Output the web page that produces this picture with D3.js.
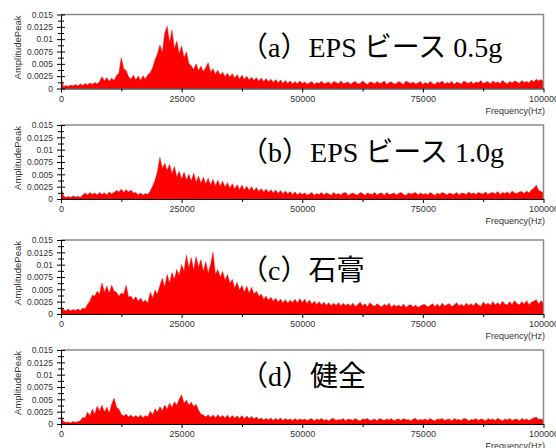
<!DOCTYPE html>
<html><head><meta charset="utf-8">
<script src="https://cdn.jsdelivr.net/npm/d3@7"></script>
<style>body{margin:0;background:#fff}svg{display:block}</style>
</head><body><svg id="c" width="556" height="448"></svg>
<script>
// ---- data ----
const freqStep = 500; // Hz between spectrum samples (0 .. 100000 Hz)
const yTicks = [0, 0.0025, 0.005, 0.0075, 0.01, 0.0125, 0.015];
const yTickLabels = ["0", "0.0025", "0.005", "0.0075", "0.01", "0.0125", "0.015"];
const yMinorTicks = [0.00125, 0.00375, 0.00625, 0.00875, 0.01125, 0.01375];
const xTicks = [0, 25000, 50000, 75000, 100000];
const xTickLabels = ["0", "25000", "50000", "75000", "100000"];
const xMinorTicks = [12500, 37500, 62500, 87500];
const titles = ["（a）EPS ビース 0.5g", "（b）EPS ビース 1.0g", "（c）石膏", "（d）健全"];
const yLabel = "AmplitudePeak";
const xLabel = "Frequency(Hz)";
// amplitude peaks, in units of 1e-4
const ampA = [25,
 3,6,4,7,5,8,5,9,6,10,7,11,8,12,9,14,
 24,15,22,14,21,16,26,31,
 62,40,36,24,19,27,17,25,16,26,19,28,32,42,58,70,
 88,72,112,126,92,118,80,96,70,86,62,74,50,46,38,50,36,45,34,42,
 52,33,40,29,37,27,33,24,31,23,30,21,28,19,27,18,25,17,23,16,
 22,15,21,14,20,13,19,12,18,11,17,10,16,10,15,9,14,9,15,10,
 13,9,11,14,8,12,10,15,9,11,13,8,14,12,9,15,10,11,13,8,12,14,9,10,15,11,8,13,12,9,14,10,11,15,8,12,13,9,10,14,11,8,15,12,10,13,9,11,14,8,
 12,9,14,10,8,13,11,15,9,12,10,14,8,13,11,9,15,12,10,14,9,13,11,16,10,12,14,9,15,11,13,10,16,12,9,14,11,15,13,10,16,12,14,11,17,13,19,15,18,14];
const ampB = [25,
 6,3,5,3,6,4,5,3,
 8,12,8,13,9,12,8,13,9,12,8,14,10,13,
 17,14,20,13,19,14,18,12,13,8,12,8,11,9,
 16,26,38,56,84,62,72,58,70,50,66,44,56,40,54,38,50,36,52,34,46,32,44,30,
 42,28,40,26,38,25,36,24,33,22,31,20,29,19,28,18,26,17,25,16,
 23,15,21,14,20,13,19,12,18,11,17,10,16,10,15,9,14,8,13,9,
 12,8,10,13,7,11,9,13,8,12,10,7,13,9,11,8,12,13,7,10,12,9,8,13,11,7,12,10,9,13,8,11,12,7,13,9,10,12,8,11,13,9,7,12,10,11,13,8,12,9,
 11,8,13,10,7,12,9,13,11,8,12,10,9,13,8,12,11,9,14,10,12,9,13,11,10,14,9,12,13,10,15,9,13,11,14,10,16,12,11,14,15,11,16,12,18,22,28,17,15,12];
const ampC = [15,
 9,6,10,6,9,7,10,7,
 12,10,20,26,38,36,46,40,63,44,56,42,58,46,44,36,42,40,58,34,36,28,35,26,32,24,28,22,44,32,48,40,
 58,72,54,80,62,84,70,90,78,100,86,119,92,114,88,116,94,110,86,106,82,100,125,80,90,74,86,68,80,62,70,52,64,48,58,44,56,42,54,40,
 46,36,40,30,36,28,34,26,32,24,30,23,29,22,28,23,30,22,31,23,
 30,21,28,20,26,19,25,18,24,17,23,16,22,17,23,16,22,17,21,16,
 22,15,19,24,16,21,14,23,18,15,21,17,14,20,16,22,13,19,15,18,14,20,13,17,19,14,18,13,16,19,
 19,14,17,21,15,20,14,22,16,19,21,15,18,23,16,20,15,22,17,21,16,23,18,15,24,19,22,17,25,18,23,17,26,20,18,25,19,27,21,18,25,20,27,19,24,26,29,20,27,22];
const ampD = [15,
 5,3,4,2,5,3,5,6,
 13,12,24,16,30,20,36,26,38,24,34,22,40,52,34,30,20,16,20,14,18,13,
 17,13,18,12,17,14,26,18,31,24,35,27,38,30,42,33,45,38,50,59,42,48,38,44,35,40,28,20,18,14,
 19,13,18,12,19,13,17,12,18,11,17,12,16,11,17,10,16,11,15,10,
 14,9,12,8,11,8,12,7,11,8,12,7,11,8,10,7,11,7,10,8,
 10,7,9,11,6,10,8,11,7,9,6,10,11,7,9,8,11,6,10,9,7,11,8,6,10,9,11,7,8,10,6,11,9,7,10,8,11,6,9,10,7,11,8,9,6,10,11,7,9,8,
 10,7,11,8,6,10,9,11,7,9,10,6,11,8,9,7,11,10,6,9,8,11,7,10,9,6,11,8,10,7,11,9,6,10,8,11,7,9,10,6,11,8,10,7,10,12,14,9,10,8];
const series = [ampA, ampB, ampC, ampD];

// ---- layout ----
const left = 61, right = 543.5, ph = 74;
const panelTops = [14.5, 125, 240, 350];
const titleBase = [42, 36.5, 39.5, 35.5];
const svg = d3.select("#c");
const x = d3.scaleLinear().domain([0, 100000]).range([left, right]);
const textCol = "#333";
const sans = "Liberation Sans, Arial, sans-serif";
const isCJK = ch => /[\u3000-\u30ff\u4e00-\u9fff\uff00-\uffef]/.test(ch);

series.forEach((vals, k) => {
  const top = panelTops[k], bottom = top + ph;
  const y = d3.scaleLinear().domain([0, 0.015]).range([bottom, top]);
  const g = svg.append("g");
  g.append("clipPath").attr("id", "clip" + k).append("rect")
    .attr("x", left).attr("y", top).attr("width", right - left).attr("height", ph);
  const area = d3.area().x((d, i) => x(i * freqStep)).y0(y(0)).y1(d => y(d * 1e-4));
  g.append("path").datum(vals).attr("d", area)
    .attr("fill", "#ff0000").attr("stroke", "#ff0000").attr("stroke-width", 0.5)
    .attr("clip-path", `url(#clip${k})`);
  g.append("path").attr("d", `M${left},${top}H${right}V${bottom}`)
    .attr("fill", "none").attr("stroke", "#8c8c8c").attr("stroke-width", 1.5);
  const ya = g.append("g").attr("transform", `translate(${left},0)`)
    .call(d3.axisLeft(y).tickValues(yTicks).tickFormat((d, i) => yTickLabels[i])
      .tickSize(4).tickSizeOuter(0).tickPadding(4));
  ya.selectAll(".tick line").attr("x1", 4);
  ya.selectAll("text").attr("font-family", sans).attr("font-size", 8.5).attr("fill", textCol);
  const ym = g.append("g").attr("transform", `translate(${left},0)`)
    .call(d3.axisLeft(y).tickValues(yMinorTicks).tickFormat("").tickSize(3).tickSizeOuter(0));
  ym.selectAll(".tick line").attr("x1", 3);
  ym.select(".domain").remove();
  const xa = g.append("g").attr("transform", `translate(0,${bottom})`)
    .call(d3.axisBottom(x).tickValues(xTicks).tickFormat((d, i) => xTickLabels[i])
      .tickSize(4).tickSizeOuter(0).tickPadding(3));
  xa.selectAll("text").attr("font-family", sans).attr("font-size", 9).attr("fill", textCol);
  const xm = g.append("g").attr("transform", `translate(0,${bottom})`)
    .call(d3.axisBottom(x).tickValues(xMinorTicks).tickFormat("").tickSize(3).tickSizeOuter(0));
  xm.select(".domain").remove();
  g.append("text").attr("x", 545).attr("y", bottom + 25).attr("text-anchor", "end")
    .attr("font-family", sans).attr("font-size", 9).attr("fill", textCol).text(xLabel);
  g.append("text").attr("transform", `translate(21,${top + 33}) rotate(-90)`)
    .attr("text-anchor", "middle")
    .attr("font-family", sans).attr("font-size", 9.5).attr("fill", textCol).text(yLabel);
  // panel title: Latin runs in Liberation Serif, CJK runs in Noto Sans CJK JP
  const runs = [];
  for (const ch of titles[k]) {
    const c = isCJK(ch);
    if (runs.length && runs[runs.length - 1].cjk === c) runs[runs.length - 1].t += ch;
    else runs.push({ t: ch, cjk: c });
  }
  const tt = g.append("text").attr("x", 240).attr("y", top + titleBase[k])
    .style("font-size", "28px").attr("fill", "#000");
  runs.forEach(r => {
    tt.append("tspan")
      .style("font-family", r.cjk ? '"Noto Sans CJK JP"' : '"Liberation Serif"')
      .text(r.t);
  });
});
</script></body></html>
